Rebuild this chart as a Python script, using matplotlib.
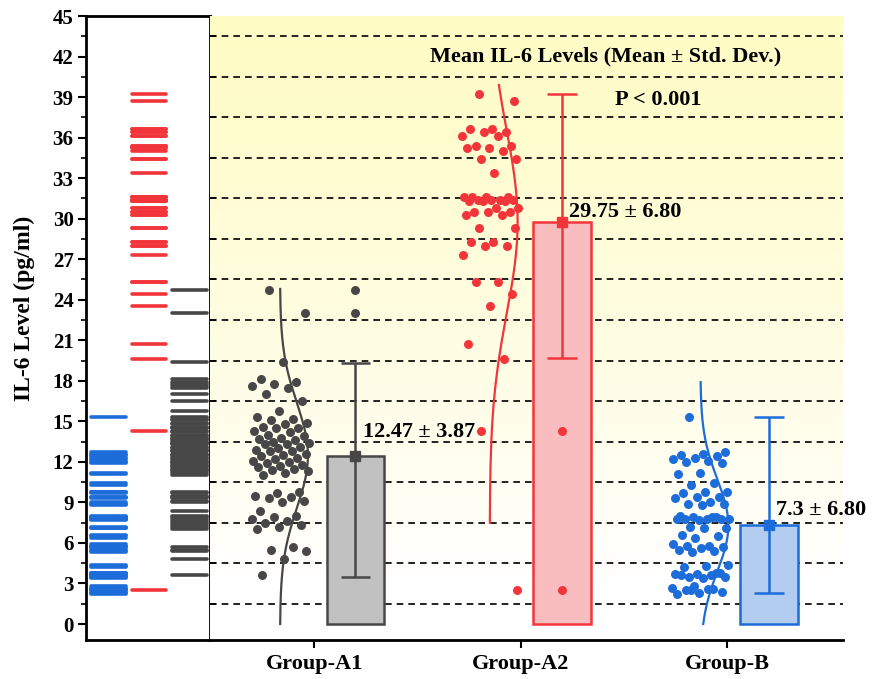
import numpy as np
import matplotlib
matplotlib.use("Agg")
import matplotlib.pyplot as plt

# ---------------- data ----------------
groups = ["Group-A1", "Group-A2", "Group-B"]

a1_values = [24.7, 23.0, 19.4, 18.1, 17.9, 17.8, 17.6, 17.5, 17.0, 16.5, 15.8,
             15.3, 15.2, 15.1, 14.9, 14.8, 14.6, 14.5, 14.5, 14.3, 14.2, 14.0,
             13.9, 13.8, 13.7, 13.6, 13.5, 13.4, 13.3, 13.3, 13.1, 13.0, 12.9,
             12.8, 12.8, 12.6, 12.5, 12.4, 12.3, 12.2, 12.1, 12.0, 11.9, 11.8,
             11.7, 11.6, 11.5, 11.4, 11.3, 11.2, 11.0,
             9.8, 9.7, 9.5, 9.4, 9.3, 9.1, 9.0, 8.4, 8.0, 7.9, 7.8, 7.6, 7.5,
             7.3, 7.2, 7.0, 5.7, 5.5, 5.4, 4.8, 3.6]

a2_values = [39.2, 38.7, 36.6, 36.6, 36.4, 36.4, 36.1, 36.1, 35.4, 35.4, 35.2,
             35.2, 35.0, 34.4, 34.4, 33.4, 31.6, 31.6, 31.6, 31.6, 31.4, 31.4,
             31.4, 31.4, 31.3, 31.3, 31.3, 30.8, 30.8, 30.5, 30.5, 30.5, 30.3,
             30.3, 29.3, 29.3, 28.3, 28.3, 28.0, 28.0, 27.3, 25.3, 25.3, 24.4,
             23.5, 20.7, 19.6, 14.3, 2.5]

b_values = [15.3, 12.7, 12.6, 12.5, 12.4, 12.3, 12.2, 12.1, 12.0, 11.9, 11.2,
            11.1, 10.4, 10.3, 9.8, 9.8, 9.7, 9.4, 9.4, 9.3, 9.0, 8.9, 8.9, 8.8,
            8.0, 7.9, 7.9, 7.8, 7.8, 7.8, 7.8, 7.7, 7.8, 7.9, 7.2, 7.1, 7.1,
            6.6, 6.5, 6.4, 5.9, 5.8, 5.8, 5.7, 5.6, 5.5, 5.4, 5.3, 4.4, 4.3,
            4.2, 3.8, 3.7, 3.7, 3.6, 3.5, 3.5, 3.4, 3.6, 3.8, 2.8, 2.7, 2.6,
            2.5, 2.4, 2.3, 2.2, 2.6, 2.5]

means = [12.47, 29.75, 7.3]
curve_sd = [3.87, 6.80, 3.4]
curve_low = [0.0, 7.5, 0.0]
curve_high = [24.8, 39.9, 17.9]
whisker_low = [3.5, 19.7, 2.3]
whisker_high = [19.3, 39.2, 15.35]
outliers = [[24.7, 23.0], [14.3, 2.5], []]
mean_labels = ["12.47 ± 3.87", "29.75 ± 6.80", "7.3 ± 6.80"]
title_text = "Mean IL-6 Levels (Mean ± Std. Dev.)"
p_text = "P < 0.001"
ylabel_text = "IL-6 Level (pg/ml)"
yticks = list(range(0, 46, 3))

# ---------------- styles / layout ----------------
data = [a1_values, a2_values, b_values]
dark = ["#474747", "#f2353a", "#1c6cd9"]
fill = ["#c1c1c1", "#f9bdbf", "#b3cdf0"]
rug_col = [2, 1, 0]                # column in the left strip for each group
scatter_off = [-0.165, -0.15, -0.13]
bar_off = 0.2
bar_w = 0.28
label_y = [14.23, 30.5, 8.44]

plt.rcParams['font.family'] = ['Liberation Serif', 'DejaVu Serif']
plt.rcParams['font.weight'] = 'bold'
plt.rcParams['lines.scale_dashes'] = False

W, H = 877, 679
fig = plt.figure(figsize=(W / 100, H / 100), dpi=100)


def fx(px):
    return px / W


def fy(py):
    return 1 - py / H


ylim = (-1.184, 45)
axL = fig.add_axes([fx(86), fy(640), fx(210) - fx(86), fy(16) - fy(640)])
axR = fig.add_axes([fx(210), fy(640), fx(843) - fx(210), fy(16) - fy(640)])

# ---------------- left strip ----------------
for gi, vals in enumerate(data):
    c = rug_col[gi]
    axL.hlines(vals, c - 0.43, c + 0.43, colors=dark[gi], lw=2.6,
               capstyle='round', zorder=2)
axL.set_xlim(-0.55, 2.5)
axL.set_ylim(*ylim)
axL.set_yticks(yticks)
axL.set_yticks([v + 1.5 for v in yticks[:-1]], minor=True)
axL.set_xticks([])
axL.tick_params(axis='y', which='major', direction='out', length=6, width=1.5,
                labelsize=15, pad=3)
axL.tick_params(axis='y', which='minor', direction='out', length=3.5, width=1.2)
for lab in axL.get_yticklabels():
    lab.set_fontweight('bold')
for s in axL.spines.values():
    s.set_linewidth(2)
axL.set_ylabel(ylabel_text, fontsize=17, fontweight='bold')
axL.yaxis.set_label_coords(-0.41, 0.532)

# ---------------- right panel ----------------
xlim = (-0.504, 2.56)
axR.set_xlim(*xlim)
axR.set_ylim(*ylim)

f = np.linspace(0, 1, 400)[:, None]
a = np.clip((f - 0.1) / 0.9, 0, 1) ** 0.85
top = np.array([255, 252, 196]) / 255.0
img = (1 - a[..., None]) * np.ones(3) + a[..., None] * top
img = np.repeat(img, 2, axis=1)
axR.imshow(img, extent=[xlim[0], xlim[1], ylim[0], ylim[1]], origin='lower',
           aspect='auto', zorder=0, interpolation='bilinear')

grid_y = [v + 1.5 for v in yticks[:-1]]
for gy in grid_y:
    axR.axhline(gy, color='#1a1a1a', lw=1.35, dashes=(4.8, 3.6), zorder=1)

golden = 0.6180339887
for gi, vals in enumerate(data):
    base = gi + scatter_off[gi]
    n = len(vals)
    jit = np.array([((k * golden + 0.31) % 1.0) * 2 - 1 for k in range(n)])
    axR.scatter(base + jit * 0.14, vals, s=42, color=dark[gi], lw=0, zorder=3)
    yy = np.linspace(curve_low[gi], curve_high[gi], 300)
    xx = base + 0.135 * np.exp(-0.5 * ((yy - means[gi]) / curve_sd[gi]) ** 2)
    axR.plot(xx, yy, color=dark[gi], lw=1.6, zorder=3)

    bx = gi + bar_off
    axR.bar(bx, means[gi], width=bar_w, color=fill[gi], edgecolor=dark[gi],
            lw=1.8, zorder=2)
    axR.vlines(bx, whisker_low[gi], whisker_high[gi], color=dark[gi], lw=1.8,
               zorder=4)
    axR.hlines([whisker_low[gi], whisker_high[gi]], bx - 0.072, bx + 0.072,
               color=dark[gi], lw=1.8, zorder=4)
    axR.plot([bx], [means[gi]], 's', ms=7.5, color=dark[gi], zorder=5)
    if outliers[gi]:
        axR.scatter([bx] * len(outliers[gi]), outliers[gi], s=42,
                    color=dark[gi], lw=0, zorder=5)
    axR.text(gi + 0.235, label_y[gi], mean_labels[gi], fontsize=16,
             fontweight='bold', ha='left', va='center', zorder=6)

axR.text(1.41, 42.0, title_text, fontsize=16, fontweight='bold',
         ha='center', va='center', zorder=6)
axR.text(1.666, 38.8, p_text, fontsize=16, fontweight='bold',
         ha='center', va='center', zorder=6)

axR.set_yticks(grid_y)
axR.tick_params(axis='y', direction='in', length=4, width=1.2,
                labelleft=False)
axR.set_xticks(range(len(groups)))
axR.set_xticklabels(groups, fontsize=16, fontweight='bold')
axR.tick_params(axis='x', direction='out', length=6, width=1.5, pad=4)
for side in ['top', 'right', 'left']:
    axR.spines[side].set_visible(False)
axR.spines['bottom'].set_linewidth(2)

fig.savefig("out.png", dpi=100)
